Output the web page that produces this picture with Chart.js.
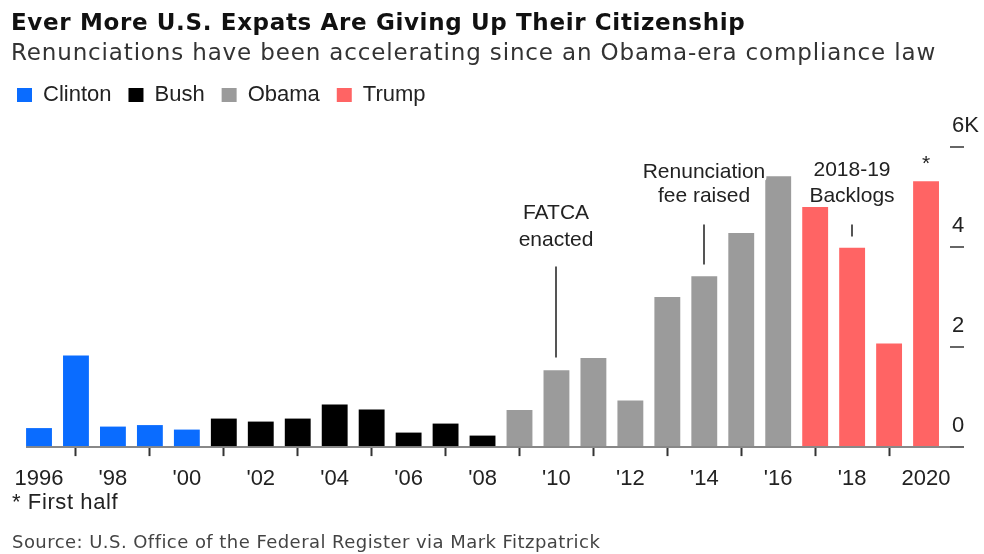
<!doctype html>
<html>
<head>
<meta charset="utf-8">
<title>Ever More U.S. Expats Are Giving Up Their Citizenship</title>
<script src="https://cdn.jsdelivr.net/npm/chart.js"></script>
<style>
    body { margin: 0; background: #fff; }
    #wrap { position: relative; width: 984px; height: 554px; font-family: "Liberation Sans", Arial, sans-serif; }
    .txt { position: absolute; left: 11px; line-height: 1; white-space: nowrap; }
    .largo { font-family: "DejaVu Sans", sans-serif; }
</style>
</head>
<body>
<div id="wrap">
    <canvas id="grafico"></canvas>
    <!-- titulo e subtitulo -->
    <div class="txt largo" style="top:11px; font-size:23px; font-weight:bold; letter-spacing:0.65px; color:#111;">Ever More U.S. Expats Are Giving Up Their Citizenship</div>
    <div class="txt largo" style="top:41px; font-size:23px; letter-spacing:0.85px; color:#333;">Renunciations have been accelerating since an Obama-era compliance law</div>
    <!-- notas de rodape -->
    <div class="txt" style="top:491px; left:12px; font-size:22px; letter-spacing:0.6px; color:#222;">* First half</div>
    <div class="txt largo" style="top:533px; left:12px; font-size:18px; letter-spacing:0.45px; color:#444;">Source: U.S. Office of the Federal Register via Mark Fitzpatrick</div>
</div>

<script>
    // Dados: renuncias de cidadania por ano (2020 = primeiro semestre)
    var anos = [1996, 1997, 1998, 1999, 2000, 2001, 2002, 2003, 2004, 2005, 2006, 2007, 2008,
                2009, 2010, 2011, 2012, 2013, 2014, 2015, 2016, 2017, 2018, 2019, 2020];
    var renuncias = [380, 1830, 410, 440, 350, 570, 510, 570, 850, 750, 290, 470, 230,
                     743, 1534, 1781, 932, 2999, 3415, 4279, 5411, 4800, 3983, 2072, 5315];

    // Presidentes e anos do mandato
    var presidentes = ['Clinton', 'Bush', 'Obama', 'Trump'];
    var mandatoInicio = [1996, 2001, 2009, 2017];
    var mandatoFim = [2000, 2008, 2016, 2020];

    // Marcas dos eixos
    var xTicks = [1996, 1998, 2000, 2002, 2004, 2006, 2008, 2010, 2012, 2014, 2016, 2018, 2020];
    var xTickLabels = ['1996', "'98", "'00", "'02", "'04", "'06", "'08", "'10", "'12", "'14", "'16", "'18", '2020'];
    var yTicks = [0, 2000, 4000, 6000];
    var yTickLabels = ['0', '2', '4', '6K'];

    var cores = ['#0a6cff', '#000000', '#9b9b9b', '#ff6464'];

    Chart.defaults.font.family = '"Liberation Sans", Arial, sans-serif';
    Chart.defaults.color = '#222';

    // Um dataset por presidente (assim a legenda sai pronta)
    var datasets = presidentes.map(function (nome, i) {
        var pontos = [];
        anos.forEach(function (ano, j) {
            if (ano >= mandatoInicio[i] && ano <= mandatoFim[i]) {
                pontos.push({ x: ano, y: renuncias[j] });
            }
        });
        return { label: nome, data: pontos, backgroundColor: cores[i], borderWidth: 0 };
    });

    // Plugin simples para as anotacoes (texto + linha guia)
    var notasPlugin = {
        id: 'notas',
        afterDatasetsDraw: function (chart, args, opts) {
            var ctx = chart.ctx, sx = chart.scales.x, sy = chart.scales.y;
            ctx.save();
            opts.itens.forEach(function (n) {
                var px = Math.round(sx.getPixelForValue(n.ano));
                if (n.linha) {
                    ctx.beginPath();
                    ctx.strokeStyle = '#555';
                    ctx.lineWidth = 2;
                    ctx.moveTo(px, sy.getPixelForValue(n.linha[0]));
                    ctx.lineTo(px, sy.getPixelForValue(n.linha[1]));
                    ctx.stroke();
                }
                ctx.font = n.fonte + 'px "Liberation Sans", Arial, sans-serif';
                ctx.textAlign = 'center';
                ctx.textBaseline = 'middle';
                n.texto.forEach(function (t, i) {
                    var py = sy.getPixelForValue(n.textoY[i]);
                    ctx.strokeStyle = '#fff';
                    ctx.lineWidth = 5;
                    ctx.lineJoin = 'round';
                    ctx.strokeText(t, px, py);
                    ctx.fillStyle = '#222';
                    ctx.fillText(t, px, py);
                });
            });
            ctx.restore();
        }
    };

    var grafico = new Chart(document.getElementById('grafico').getContext('2d'), {
        type: 'bar',
        data: { datasets: datasets },
        options: {
            responsive: true,
            maintainAspectRatio: false,
            animation: false,
            layout: { padding: { top: 67, bottom: 51.5, left: 0, right: 0 } },
            datasets: {
                bar: { grouped: false, categoryPercentage: 1, barPercentage: 0.7 }
            },
            plugins: {
                legend: {
                    position: 'top',
                    align: 'start',
                    labels: { boxWidth: 15, boxHeight: 14, padding: 17, color: '#222', font: { size: 22 } }
                },
                tooltip: { enabled: false },
                notas: {
                    itens: [
                        { ano: 2010, texto: ['FATCA', 'enacted'], textoY: [4670, 4130], linha: [3610, 1790], fonte: 21 },
                        { ano: 2014, texto: ['Renunciation', 'fee raised'], textoY: [5490, 5010], linha: [4450, 3650], fonte: 21 },
                        { ano: 2018, texto: ['2018-19', 'Backlogs'], textoY: [5530, 5010], linha: [4450, 4210], fonte: 21 },
                        { ano: 2020, texto: ['*'], textoY: [5660], linha: null, fonte: 21 }
                    ]
                }
            },
            scales: {
                x: {
                    type: 'linear',
                    min: 1995.648,
                    max: 2020.648,
                    offset: false,
                    afterBuildTicks: function (s) { s.ticks = xTicks.map(function (v) { return { value: v }; }); },
                    ticks: {
                        callback: function (v) { return xTickLabels[xTicks.indexOf(v)]; },
                        autoSkip: false, maxRotation: 0, padding: 10, color: '#222', font: { size: 22 }
                    },
                    grid: { drawOnChartArea: false, tickLength: 9, tickColor: '#333', tickWidth: 2 },
                    border: { display: false }
                },
                y: {
                    position: 'right',
                    min: 0,
                    max: 6617,
                    afterBuildTicks: function (s) { s.ticks = yTicks.map(function (v) { return { value: v }; }); },
                    afterFit: function (s) { s.width = 34; },
                    ticks: {
                        callback: function (v) { return yTickLabels[yTicks.indexOf(v)]; },
                        padding: -12, labelOffset: -21, color: '#222', font: { size: 22 }
                    },
                    grid: {
                        color: function (c) { return c.tick && c.tick.value === 0 ? '#888' : 'rgba(0,0,0,0)'; },
                        lineWidth: 2, tickLength: 14, tickColor: '#666', tickWidth: 2
                    },
                    border: { display: false }
                },
                // eixo vazio so para deixar a margem esquerda
                margem: {
                    type: 'linear',
                    position: 'left',
                    grid: { display: false },
                    border: { display: false },
                    ticks: { display: false },
                    afterFit: function (s) { s.width = 26; }
                }
            }
        },
        plugins: [notasPlugin]
    });
</script>
</body>
</html>
